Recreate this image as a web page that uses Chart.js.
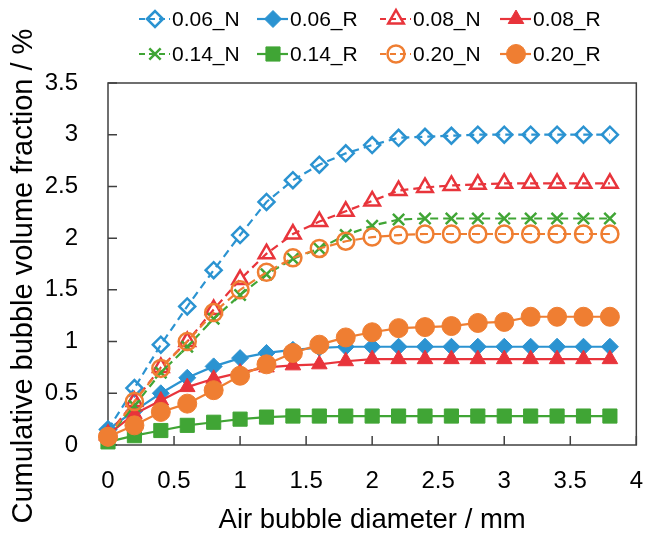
<!DOCTYPE html>
<html>
<head>
<meta charset="utf-8">
<script src="https://cdn.jsdelivr.net/npm/chart.js@4.4.0/dist/chart.umd.min.js"></script>
<style>
  html, body { margin: 0; padding: 0; background: #fff; }
</style>
</head>
<body>
<canvas id="bubbleChart" width="657" height="538"></canvas>
<script>
// air bubble diameter in mm (x axis) //
const diameters = [0, 0.2, 0.4, 0.6, 0.8, 1.0, 1.2, 1.4, 1.6, 1.8, 2.0, 2.2, 2.4, 2.6, 2.8, 3.0, 3.2, 3.4, 3.6, 3.8];

// cumulative bubble volume fraction in % //
const n006 = [0.15, 0.55, 0.97, 1.34, 1.69, 2.03, 2.35, 2.56, 2.71, 2.82, 2.90, 2.97, 2.98, 2.99, 3.00, 3.00, 3.00, 3.00, 3.00, 3.00];
const r006 = [0.15, 0.33, 0.50, 0.65, 0.76, 0.84, 0.89, 0.92, 0.94, 0.95, 0.95, 0.95, 0.95, 0.95, 0.95, 0.95, 0.95, 0.95, 0.95, 0.95];
const n008 = [0.10, 0.42, 0.75, 1.00, 1.31, 1.60, 1.85, 2.04, 2.16, 2.26, 2.36, 2.46, 2.49, 2.51, 2.52, 2.53, 2.53, 2.53, 2.53, 2.53];
const r008 = [0.10, 0.30, 0.43, 0.56, 0.64, 0.70, 0.75, 0.77, 0.78, 0.81, 0.83, 0.83, 0.83, 0.83, 0.83, 0.83, 0.83, 0.83, 0.83, 0.83];
const n014 = [0.08, 0.38, 0.70, 0.95, 1.22, 1.45, 1.65, 1.80, 1.90, 2.03, 2.12, 2.18, 2.19, 2.19, 2.19, 2.19, 2.19, 2.19, 2.19, 2.19];
const r014 = [0.03, 0.09, 0.14, 0.19, 0.22, 0.25, 0.27, 0.28, 0.28, 0.28, 0.28, 0.28, 0.28, 0.28, 0.28, 0.28, 0.28, 0.28, 0.28, 0.28];
const n020 = [0.08, 0.42, 0.74, 1.00, 1.28, 1.50, 1.67, 1.81, 1.90, 1.97, 2.01, 2.03, 2.04, 2.04, 2.04, 2.04, 2.04, 2.04, 2.04, 2.04];
const r020 = [0.08, 0.19, 0.32, 0.40, 0.53, 0.67, 0.78, 0.89, 0.97, 1.04, 1.09, 1.13, 1.14, 1.15, 1.18, 1.19, 1.24, 1.24, 1.24, 1.24];

const seriesNames = ["0.06_N", "0.06_R", "0.08_N", "0.08_R", "0.14_N", "0.14_R", "0.20_N", "0.20_R"];

const BLUE = "#2b93d1";
const RED = "#e8343b";
const GREEN = "#40a535";
const ORANGE = "#ef7e32";
const FONT = "'Liberation Sans', Arial, sans-serif";

// one dataset per series, N = open marker + dashed line, R = filled marker + solid line //
function makeSet(i, values, color, style, open, radius) {
  return {
    label: seriesNames[i],
    data: values.map((v, k) => ({ x: diameters[k], y: v })),
    borderColor: color,
    backgroundColor: color,
    pointBorderColor: color,
    pointBackgroundColor: open ? "rgba(0,0,0,0)" : color,
    pointStyle: style,
    pointRadius: radius,
    pointBorderWidth: open ? 2.5 : 1,
    borderWidth: 2.2,
    borderDash: open ? [8, 5] : [],
    tension: 0,
    clip: false,
    order: 8 - i
  };
}

const datasets = [
  makeSet(0, n006, BLUE, "rectRot", true, 8),
  makeSet(1, r006, BLUE, "rectRot", false, 8.5),
  makeSet(2, n008, RED, "triangle", true, 9),
  makeSet(3, r008, RED, "triangle", false, 9),
  makeSet(4, n014, GREEN, "crossRot", true, 8),
  makeSet(5, r014, GREEN, "rect", false, 10),
  makeSet(6, n020, ORANGE, "circle", true, 8.5),
  makeSet(7, r020, ORANGE, "circle", false, 9.5)
];

// plot frame and inward tick marks //
const framePlugin = {
  id: "frame",
  beforeDatasetsDraw(chart) {
    const { ctx, chartArea: a, scales } = chart;
    ctx.save();
    ctx.strokeStyle = "#404040";
    ctx.lineWidth = 1.5;
    ctx.strokeRect(a.left, a.top, a.right - a.left, a.bottom - a.top);
    ctx.beginPath();
    scales.x.ticks.forEach(t => {
      const px = scales.x.getPixelForValue(t.value);
      ctx.moveTo(px, a.bottom);
      ctx.lineTo(px, a.bottom - 9);
    });
    scales.y.ticks.forEach(t => {
      const py = scales.y.getPixelForValue(t.value);
      ctx.moveTo(a.left, py);
      ctx.lineTo(a.left + 9, py);
    });
    ctx.stroke();
    ctx.restore();
  }
};

// two row legend with line + marker, like the spreadsheet one //
const legendCols = [172, 290, 413, 533];
const legendRows = [19, 54];
const legendPlugin = {
  id: "sheetLegend",
  afterDraw(chart) {
    const ctx = chart.ctx;
    ctx.save();
    chart.data.datasets.forEach((ds, i) => {
      const tx = legendCols[i % 4];
      const ty = legendRows[Math.floor(i / 4)];
      ctx.strokeStyle = ds.borderColor;
      ctx.lineWidth = ds.borderWidth;
      ctx.setLineDash(ds.borderDash.length ? [6, 4] : []);
      ctx.beginPath();
      ctx.moveTo(tx - 33, ty);
      ctx.lineTo(tx - 2, ty);
      ctx.stroke();
      ctx.setLineDash([]);
      ctx.fillStyle = ds.pointBackgroundColor;
      ctx.strokeStyle = ds.pointBorderColor;
      ctx.lineWidth = ds.pointBorderWidth;
      Chart.helpers.drawPoint(ctx, {
        pointStyle: ds.pointStyle,
        radius: ds.pointRadius,
        rotation: 0,
        borderWidth: ds.pointBorderWidth
      }, tx - 17, ty);
      ctx.fillStyle = "#000";
      ctx.font = "21px " + FONT;
      ctx.textAlign = "left";
      ctx.textBaseline = "middle";
      ctx.fillText(ds.label, tx, ty + 1);
    });
    ctx.restore();
  }
};

// plain tick text: 0, 0.5, 1, 1.5 ... //
const plainTick = v => String(Math.round(v * 10) / 10);

new Chart(document.getElementById("bubbleChart"), {
  type: "line",
  data: { datasets: datasets },
  options: {
    responsive: false,
    animation: false,
    layout: { padding: { left: 0, right: 9, top: 83, bottom: 0 } },
    plugins: {
      legend: { display: false },
      tooltip: { enabled: false }
    },
    scales: {
      x: {
        type: "linear",
        min: 0,
        max: 4,
        grid: { display: false },
        border: { display: false },
        ticks: {
          stepSize: 0.5,
          color: "#000",
          padding: 14,
          callback: plainTick,
          font: { family: FONT, size: 24 }
        },
        title: {
          display: true,
          text: "Air bubble diameter / mm",
          color: "#000",
          padding: { top: 0, bottom: 1 },
          font: { family: FONT, size: 27.5 }
        },
        afterFit(scale) { scale.height = 93; }
      },
      y: {
        type: "linear",
        min: 0,
        max: 3.5,
        grid: { display: false },
        border: { display: false },
        ticks: {
          stepSize: 0.5,
          color: "#000",
          padding: 22,
          callback: plainTick,
          font: { family: FONT, size: 24 }
        },
        title: {
          display: true,
          text: "Cumulative bubble volume fraction / %   ",
          color: "#000",
          padding: { top: 7, bottom: 0 },
          font: { family: FONT, size: 29 }
        },
        afterFit(scale) { scale.width = 108; }
      }
    }
  },
  plugins: [framePlugin, legendPlugin]
});
</script>
</body>
</html>
